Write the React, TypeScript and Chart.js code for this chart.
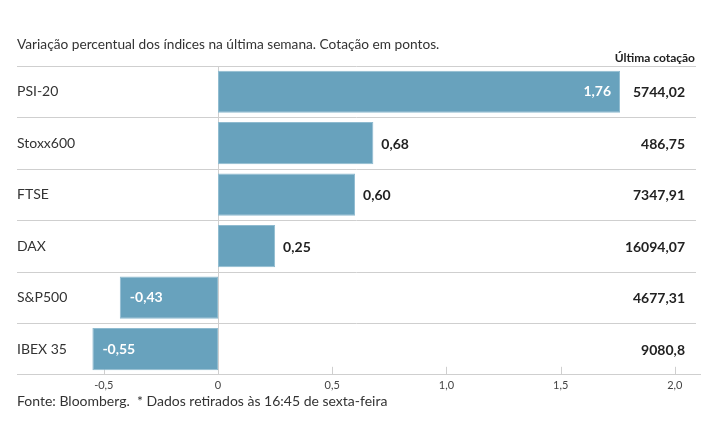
import React, { useEffect, useRef } from "react";
import { Chart, registerables } from "chart.js";

Chart.register(...registerables);

const categories = ["PSI-20", "Stoxx600", "FTSE", "DAX", "S&P500", "IBEX 35"];
const changes = [1.76, 0.68, 0.6, 0.25, -0.43, -0.55];
const lastQuotes = ["5744,02", "486,75", "7347,91", "16094,07", "4677,31", "9080,8"];
const xTicks = [-0.5, 0, 0.5, 1.0, 1.5, 2.0];

const TITLE = "Variação percentual dos índices na última semana. Cotação em pontos.";
const HEADER = "Última cotação";
const FOOTER = "Fonte: Bloomberg.  * Dados retirados às 16:45 de sexta-feira";

const FONT = "Lato, 'Open Sans', sans-serif";
const fmt = (v: number) => (v === 0 ? "0" : v.toFixed(2).replace(".", ","));
const fmtTick = (v: number) => (v === 0 ? "0" : v.toFixed(1).replace(".", ","));

const overlay = {
  id: "overlay",
  beforeDatasetsDraw(chart: any) {
    const { ctx, chartArea, scales } = chart;
    const x = scales.x;
    const y = scales.y;
    const rowH = Math.abs(y.getPixelForValue(1) - y.getPixelForValue(0));
    ctx.save();
    ctx.strokeStyle = "#cfcfcf";
    ctx.lineWidth = 1;
    categories.forEach((_, i) => {
      const top = Math.round(y.getPixelForValue(i) - rowH / 2) + 0.5;
      ctx.beginPath();
      ctx.moveTo(17, top);
      ctx.lineTo(696, top);
      ctx.stroke();
    });
    const zx = Math.round(x.getPixelForValue(0)) + 0.5;
    ctx.beginPath();
    ctx.moveTo(zx, chartArea.top);
    ctx.lineTo(zx, chartArea.bottom);
    ctx.stroke();
    xTicks.forEach((t) => {
      if (t === 0) return;
      const px = Math.round(x.getPixelForValue(t)) + 0.5;
      ctx.beginPath();
      ctx.moveTo(px, chartArea.bottom - 8);
      ctx.lineTo(px, chartArea.bottom);
      ctx.stroke();
    });
    ctx.restore();
  },
  afterDraw(chart: any) {
    const { ctx, scales } = chart;
    const x = scales.x;
    const y = scales.y;
    const maxVal = Math.max(...changes);
    ctx.save();
    ctx.textBaseline = "middle";
    ctx.fillStyle = "#333";
    ctx.font = `13.7px ${FONT}`;
    ctx.textAlign = "left";
    ctx.fillText(TITLE, 17, 45);
    ctx.font = `14px ${FONT}`;
    ctx.fillText(FOOTER, 17, 401);
    ctx.font = `bold 12px ${FONT}`;
    ctx.textAlign = "right";
    ctx.fillStyle = "#222";
    ctx.fillText(HEADER, 695, 58);

    categories.forEach((c, i) => {
      const cy = y.getPixelForValue(i);
      ctx.font = `14px ${FONT}`;
      ctx.fillStyle = "#333";
      ctx.textAlign = "left";
      ctx.fillText(c, 17, cy);

      ctx.font = `bold 14px ${FONT}`;
      ctx.fillStyle = "#222";
      ctx.textAlign = "right";
      ctx.fillText(lastQuotes[i], 685, cy + 1);

      const v = changes[i];
      const end = x.getPixelForValue(v);
      const label = fmt(v);
      if (v < 0) {
        ctx.fillStyle = "#fff";
        ctx.textAlign = "left";
        ctx.fillText(label, end + 10, cy);
      } else if (v === maxVal) {
        ctx.fillStyle = "#fff";
        ctx.textAlign = "right";
        ctx.fillText(label, end - 9, cy);
      } else {
        ctx.fillStyle = "#222";
        ctx.textAlign = "left";
        ctx.fillText(label, end + 8, cy + 1);
      }
    });
    ctx.restore();
  },
};

export default function App() {
  const ref = useRef<HTMLCanvasElement>(null);
  useEffect(() => {
    if (!ref.current) return;
    const chart = new Chart(ref.current, {
      type: "bar",
      data: {
        labels: categories,
        datasets: [
          {
            data: changes,
            backgroundColor: "#68a2bd",
            borderColor: "#8fbbd0",
            borderWidth: 1,
            borderSkipped: false,
            barPercentage: 0.82,
            categoryPercentage: 1,
          },
        ],
      },
      plugins: [overlay],
      options: {
        indexAxis: "y",
        animation: false,
        responsive: false,
        maintainAspectRatio: false,
        layout: { padding: { top: 66, left: 17, right: 15, bottom: 49 } },
        plugins: { legend: { display: false }, tooltip: { enabled: false }, title: { display: false } },
        scales: {
          x: {
            type: "linear",
            min: -0.88,
            max: 2.11,
            grid: { display: false, drawTicks: false, tickLength: 0 },
            border: { display: true, color: "#cfcfcf" },
            afterBuildTicks: (s: any) => {
              s.ticks = xTicks.map((v) => ({ value: v }));
            },
            ticks: {
              padding: 4,
              color: "#444",
              font: { family: FONT, size: 11 },
              callback: (v: any) => fmtTick(Number(v)),
            },
          },
          y: { display: false },
        },
      },
    } as any);
    return () => chart.destroy();
  }, []);
  return (
    <div style={{ position: "fixed", left: 0, top: 0, width: 715, height: 445, background: "#fff" }}>
      <canvas ref={ref} width={715} height={445} style={{ width: 715, height: 445 }} />
    </div>
  );
}
